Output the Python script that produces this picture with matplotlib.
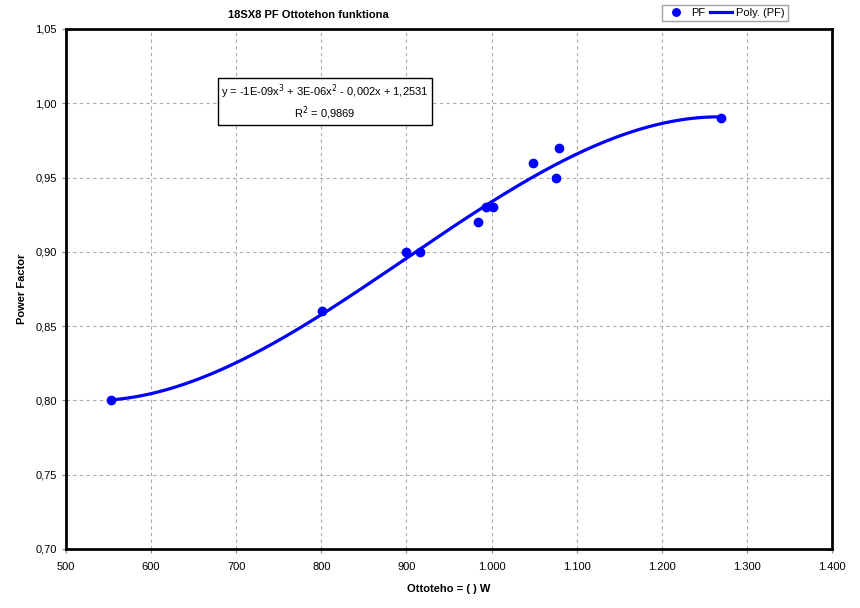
import numpy as np
import matplotlib.pyplot as plt
from matplotlib.ticker import FuncFormatter

plt.rcParams['font.family'] = ['Liberation Sans', 'DejaVu Sans']

teho = [553, 801, 900, 916, 984, 994, 1002, 1049, 1076, 1079, 1270]
pf = [0.80, 0.86, 0.90, 0.90, 0.92, 0.93, 0.93, 0.96, 0.95, 0.97, 0.99]

# 3. asteen trendiviiva
c = np.polyfit(teho, pf, 3)
xs = np.linspace(min(teho), max(teho), 300)
ys = np.polyval(c, xs)

fig = plt.figure(figsize=(8.6, 6.08), dpi=100)
ax = fig.add_axes([66/860, 59/608, 766/860, 520/608])

ax.plot(teho, pf, 'o', color='#0000ff', ms=6, label='PF', zorder=3)
ax.plot(xs, ys, color='#0000ff', lw=2.3, label='Poly. (PF)', zorder=2)

ax.set_xlim(500, 1400)
ax.set_ylim(0.70, 1.05)
ax.set_xticks(np.arange(500, 1401, 100))
ax.set_yticks(np.arange(0.70, 1.051, 0.05))
ax.xaxis.set_major_formatter(FuncFormatter(lambda v, p: f"{int(round(v)):,}".replace(',', '.')))
ax.yaxis.set_major_formatter(FuncFormatter(lambda v, p: f"{v:.2f}".replace('.', ',')))
ax.tick_params(labelsize=8, length=3, width=0.8, color='#888888')
ax.tick_params(axis='x', pad=6)
ax.grid(True, ls=(0, (3, 3)), color='#aaaaaa', lw=0.8)
for s in ax.spines.values():
    s.set_linewidth(2)

ax.set_xlabel('Ottoteho = ( ) W', fontsize=8, fontweight='bold', labelpad=9)
ax.set_ylabel('Power Factor', fontsize=8, fontweight='bold', labelpad=6)
fig.text(308/860, 1 - 15/608, '18SX8 PF Ottotehon funktiona', fontsize=8,
         fontweight='bold', ha='center', va='center')

ax.text(325/860, 1 - 102/608,
        'y = -1E-09x$^3$ + 3E-06x$^2$ - 0,002x + 1,2531\nR$^2$ = 0,9869',
        transform=fig.transFigure, ha='center', va='center', fontsize=8,
        linespacing=1.3,
        bbox=dict(boxstyle='square,pad=0.3', fc='white', ec='black', lw=1))

fig.legend(loc='center', bbox_to_anchor=(725/860, 1 - 13/608), ncol=2,
           fontsize=8, frameon=True, fancybox=False, edgecolor='#888888',
           handlelength=2.0, columnspacing=0.4, handletextpad=0.35,
           borderpad=0.3, markerscale=0.9)

fig.savefig('out.png', dpi=100)
